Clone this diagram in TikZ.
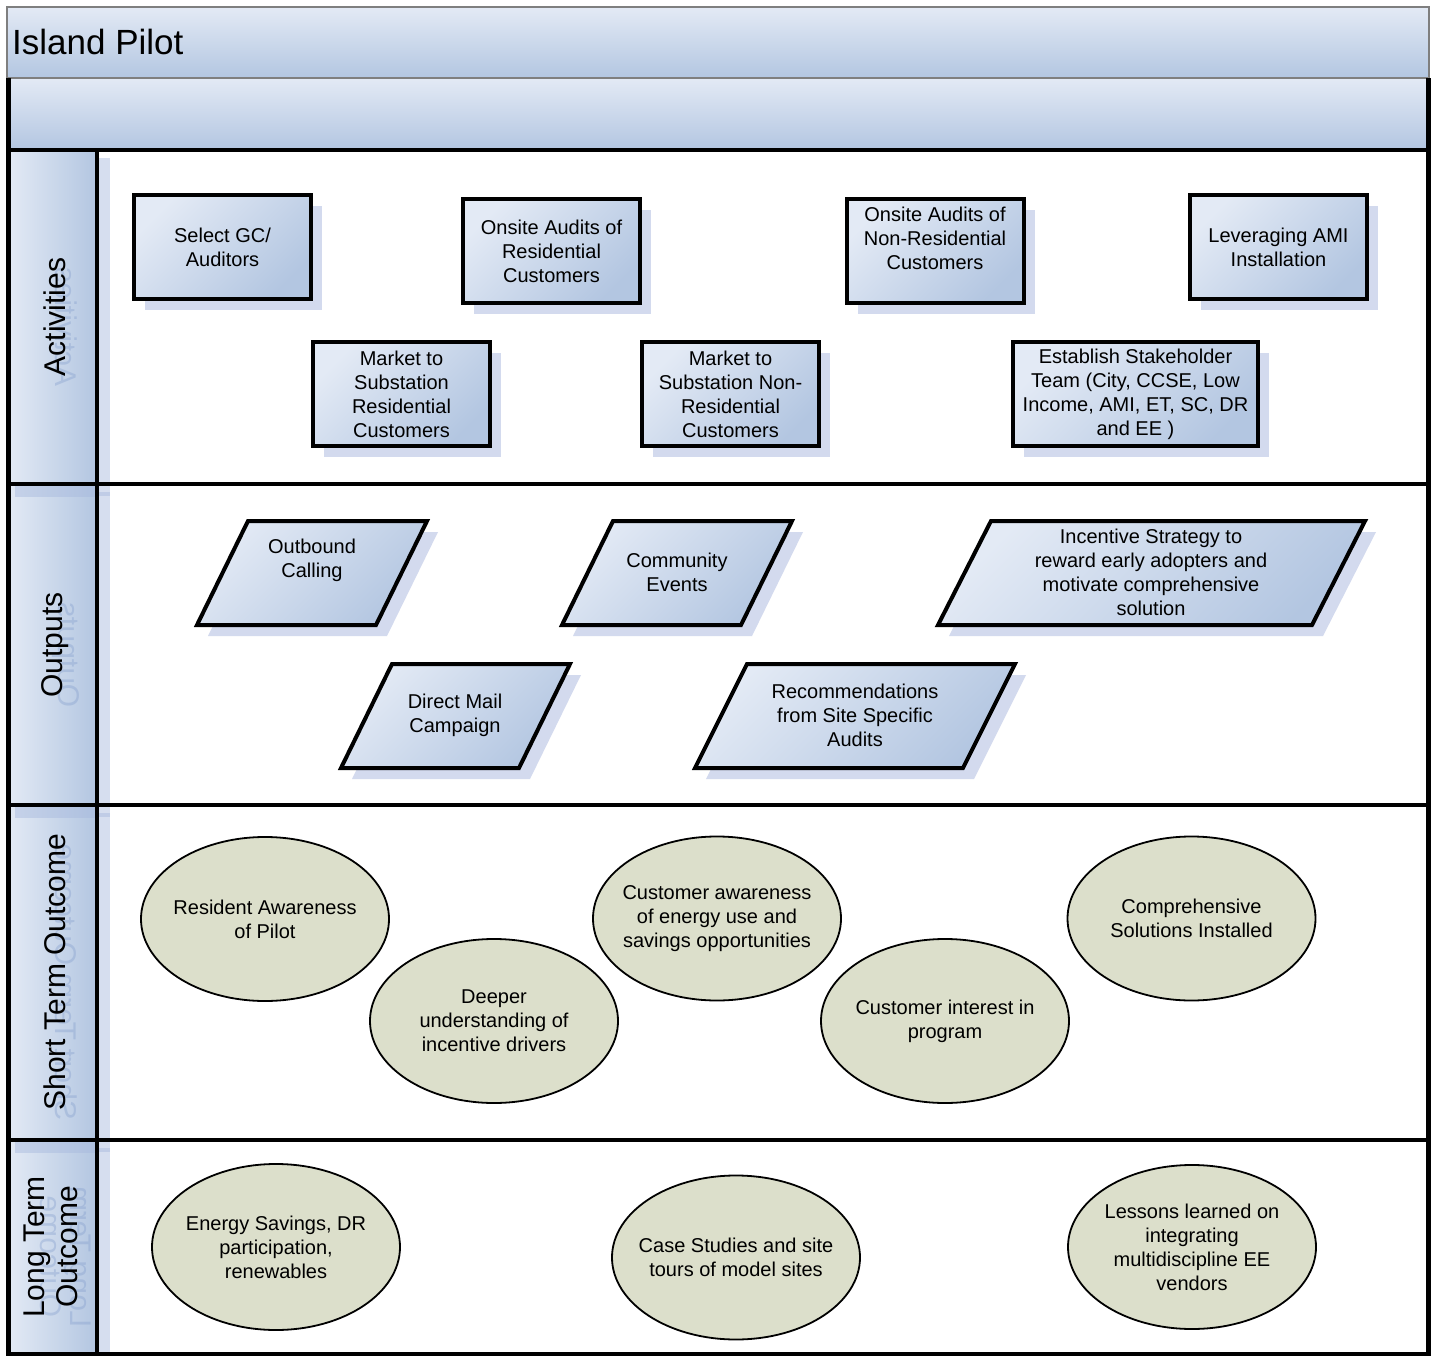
\documentclass[tikz,border=0pt]{standalone}
\usepackage{fontspec}
\setmainfont{Liberation Sans}
\usetikzlibrary{shapes.geometric,shadows}
\definecolor{bl}{HTML}{E3EAF5}
\definecolor{bd}{HTML}{B3C6E1}
\definecolor{shc}{HTML}{D3DAEE}
\definecolor{shs}{HTML}{A6B8DD}
\definecolor{ellc}{HTML}{DCDFCB}
\definecolor{frameg}{HTML}{7F7F7F}
\definecolor{reflc}{HTML}{7F9ACB}
\begin{document}
\begin{tikzpicture}[x=1pt,y=-1pt,
  txt/.style={font=\fontsize{20}{24}\selectfont, align=center, inner sep=0pt},
  boxshadow/.style={drop shadow={shadow xshift=11pt, shadow yshift=-11pt, fill=shc, opacity=1}},
  act/.style={rectangle, draw=black, line width=4pt, top color=bl, bottom color=bd, shading angle=45,
    boxshadow, minimum width=177pt, minimum height=104pt, inner sep=0pt, txt},
  para/.style={draw=black, line width=4pt, top color=bl, bottom color=bd, shading angle=45, boxshadow},
  ell/.style={ellipse, draw=black, line width=1.8pt, fill=ellc, minimum width=248pt, minimum height=164pt,
    inner sep=0pt},
  lanelabel/.style={rotate=90, font=\fontsize{30}{33}\selectfont, align=center, inner sep=0pt},
  refl/.style={lanelabel, text=reflc, opacity=0.35},
  lanehead/.style={left color=bl, right color=bd},
  bar/.style={top color=bl, bottom color=bd},
  lanerule/.style={line width=4.5pt, black},
]
\useasboundingbox (0,0) rectangle (1436,1356);
\fill[white] (0,0) rectangle (1436,1356);

% title and top bars
\path[bar, draw=frameg, line width=1.5pt] (7,7) rectangle (1429,78);
\node[anchor=west, font=\fontsize{35}{40}\selectfont, inner sep=0pt] (title) at (12,42) {Island Pilot};
\path[bar] (8,78) rectangle (1428,150);
\draw[frameg, line width=1.5pt] (8,78) -- (1428,78);

% lane headers
\path[lanehead] (8,150) rectangle (97,484);
\path[lanehead] (8,484) rectangle (97,805);
\path[lanehead] (8,805) rectangle (97,1140);
\path[lanehead] (8,1140) rectangle (97,1354);

% header shadows
\foreach \t/\b in {150/484,484/805,805/1140}{
  \fill[shs, opacity=0.45] (99,\t+8) rectangle (110,\b+12);
  \fill[shs, opacity=0.45] (15,\b+2) rectangle (99,\b+13);
}
\fill[shs, opacity=0.45] (99,1148) rectangle (110,1352);

% lane labels with faint reflections
\node[refl] (r1) at (66,327) {\scalebox{1}[-1]{Activities}};
\node[lanelabel] (l1) at (55,317) {Activities};
\node[refl] (r2) at (66,655) {\scalebox{1}[-1]{Outputs}};
\node[lanelabel] (l2) at (55,645) {Outputs};
\node[refl] (r3) at (66,982) {\scalebox{1}[-1]{Short Term Outcome}};
\node[lanelabel] (l3) at (55,972) {Short Term Outcome};
\node[refl] (r4) at (62,1257) {\scalebox{1}[-1]{\begin{tabular}{@{}c@{}}Long Term\\[-3pt]Outcome\end{tabular}}};
\node[lanelabel] (l4) at (51,1247) {Long Term\\Outcome};

% lane rules and frame
\draw[lanerule] (7,150) -- (1429,150);
\draw[lanerule] (7,484) -- (1429,484);
\draw[lanerule] (7,805) -- (1429,805);
\draw[lanerule] (7,1140) -- (1429,1140);
\draw[lanerule] (97,150) -- (97,1354);
\draw[line width=5pt, line join=miter] (8,78) -- (8,1354) -- (1428,1354) -- (1428,78);

% activities
\node[act] (a1) at (222.5,247) {Select GC/\\Auditors};
\node[act] (a2) at (551.5,251) {Onsite Audits of\\Residential\\Customers};
\node[act] (a3) at (935,251) {};
\node[txt] (a3t) at (935,238) {Onsite Audits of\\Non-Residential\\Customers};
\node[act] (a4) at (1278.5,247) {Leveraging AMI\\Installation};
\node[act] (a5) at (401.5,394) {Market to\\Substation\\Residential\\Customers};
\node[act] (a6) at (730.5,394) {Market to\\Substation Non-\\Residential\\Customers};
\node[act, minimum width=245pt] (a7) at (1135.5,394) {Establish Stakeholder\\Team (City, CCSE, Low\\Income, AMI, ET, SC, DR\\and EE )};

% outputs
\path[para] (248,521) -- (427,521) -- (376,625) -- (197,625) -- cycle;
\node[txt] (o1) at (312,560) {Outbound\\Calling};
\path[para] (613,521) -- (792,521) -- (741,625) -- (562,625) -- cycle;
\node[txt] (o2) at (677,572) {Community\\Events};
\path[para] (991,521) -- (1365,521) -- (1312,625) -- (938,625) -- cycle;
\node[txt] (o3) at (1151,572.5) {Incentive Strategy to\\reward early adopters and\\motivate comprehensive\\solution};
\path[para] (392,664) -- (570,664) -- (519,768) -- (341,768) -- cycle;
\node[txt] (o4) at (455,715) {Direct Mail\\Campaign};
\path[para] (747,664) -- (1015,664) -- (963,768) -- (695,768) -- cycle;
\node[txt] (o5) at (855,715.5) {Recommendations\\from Site Specific\\Audits};

% short term outcomes
\node[ell] (e1) at (265,919) {};
\node[txt] (e1t) at (e1) {Resident Awareness\\of Pilot};
\node[ell] (e2) at (494,1021) {};
\node[txt] (e2t) at (e2) {Deeper\\understanding of\\incentive drivers};
\node[ell] (e3) at (717,918.5) {};
\node[txt] (e3t) at (e3) {Customer awareness\\of energy use and\\savings opportunities};
\node[ell] (e4) at (945,1021) {};
\node[txt] (e4t) at (e4) {Customer interest in\\program};
\node[ell] (e5) at (1191.5,918.5) {};
\node[txt] (e5t) at (e5) {Comprehensive\\Solutions Installed};

% long term outcomes
\node[ell, minimum height=166pt] (e6) at (276,1247) {};
\node[txt] (e6t) at (e6) {Energy Savings, DR\\participation,\\renewables};
\node[ell] (e7) at (736,1257.5) {};
\node[txt] (e7t) at (e7) {Case Studies and site\\tours of model sites};
\node[ell] (e8) at (1192,1247) {};
\node[txt] (e8t) at (e8) {Lessons learned on\\integrating\\multidiscipline EE\\vendors};
\end{tikzpicture}
\end{document}
